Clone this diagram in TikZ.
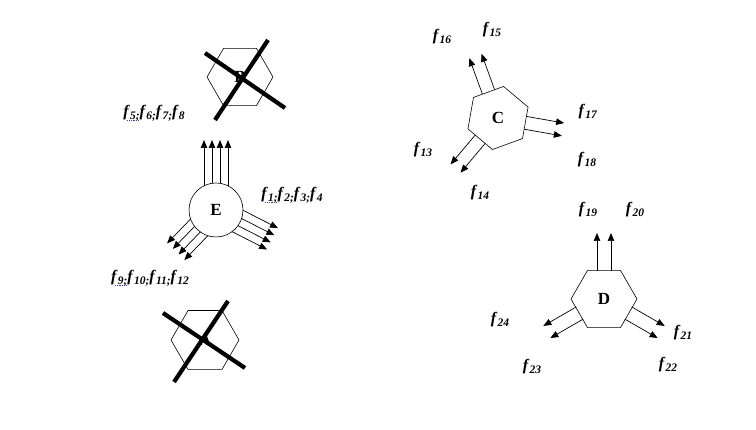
\documentclass[tikz,border=0pt]{standalone}
\usepackage{fontspec}
\setmainfont{Liberation Serif}
\usetikzlibrary{positioning,arrows.meta,calc,shapes.geometric}
\definecolor{spellblue}{RGB}{60,60,170}
\newcommand{\fl}[1]{\textit{\textbf{f}}\raisebox{-0.4ex}{\fontsize{11.5}{11.5}\selectfont\textit{\textbf{#1}}}}

\begin{document}
\begin{tikzpicture}[
  x=1pt,y=1pt,
  >={Triangle[length=8pt,width=6.5pt]},
  hexa/.style={draw,regular polygon,regular polygon sides=6,minimum size=66pt,
               inner sep=0pt,line width=0.6pt,font=\fontsize{17}{17}\selectfont\bfseries},
  ring/.style={draw,circle,minimum size=54pt,inner sep=0pt,line width=0.6pt,
               font=\fontsize{17}{17}\selectfont\bfseries},
  flow/.style={->,line width=0.7pt},
  strike/.style={line width=4.2pt},
  spell/.style={spellblue,densely dotted,line width=0.8pt},
  lab/.style={inner sep=0pt,font=\fontsize{16}{16}\selectfont}
]
\useasboundingbox (0,0) rectangle (756,430);
\node[hexa] (B) at (240,353) {B};
\node[hexa,minimum size=68pt] (A) at (205,90) {A};
\node[ring] (E) at (216,220) {E};
\node[hexa,minimum size=64pt,regular polygon rotate=20] (C) at (498,312) {C};
\node[hexa] (D) at (604,131) {D};
\draw[strike] ($(B)+(-35,24)$) -- ($(B)+(45,-31)$);
\draw[strike] ($(B)+(-25,-43)$) -- ($(B)+(28,37)$);
\draw[strike] ($(A)+(-42,27)$) -- ($(A)+(40,-28)$);
\draw[strike] ($(A)+(-31,-42)$) -- ($(A)+(23,39)$);
\foreach \a/\e in {90/70,-27/63.5,226/58}
  \foreach \o in {-12,-4,4,12}
    \draw[flow] ($(E)+(\a:{sqrt(729-\o*\o)})+({\a+90}:\o)$) -- ($(E)+(\a:\e)+({\a+90}:\o)$);
\foreach \a in {110,-10,230}
  \foreach \o in {-6.5,6.5}
    \draw[flow] ($(C)+(\a:28)+({\a+90}:\o)$) -- ($(C)+(\a:66)+({\a+90}:\o)$);
\foreach \a in {90,-30,210}
  \foreach \o in {-7,7}
    \draw[flow] ($(D)+(\a:28)+({\a+90}:\o)$) -- ($(D)+(\a:66)+({\a+90}:\o)$);
\node[lab] (fB) at (154,317) {\fl{5;}\fl{6;}\fl{7;}\fl{8}};
\node[lab] (fE) at (292,235) {\fl{1;}\fl{2;}\fl{3;}\fl{4}};
\node[lab] (fA) at (150,152) {\fl{9;}\fl{10;}\fl{11;}\fl{12}};
\draw[spell] ($(fB.base west)+(4,-4)$) -- ++(11,0);
\draw[spell] ($(fE.base west)+(4,-4)$) -- ++(11,0);
\draw[spell] ($(fA.base west)+(4,-4)$) -- ++(11,0);
\node[lab] (f13) at (423,280) {\fl{13}};
\node[lab] (f14) at (480,237) {\fl{14}};
\node[lab] (f15) at (492,400) {\fl{15}};
\node[lab] (f16) at (442,393) {\fl{16}};
\node[lab] (f17) at (588,318) {\fl{17}};
\node[lab] (f18) at (587,270) {\fl{18}};
\node[lab] (f19) at (588,220) {\fl{19}};
\node[lab] (f20) at (635,220) {\fl{20}};
\node[lab] (f21) at (683,97) {\fl{21}};
\node[lab] (f22) at (668,65) {\fl{22}};
\node[lab] (f23) at (532,63) {\fl{23}};
\node[lab] (f24) at (500,110) {\fl{24}};
\end{tikzpicture}
\end{document}
